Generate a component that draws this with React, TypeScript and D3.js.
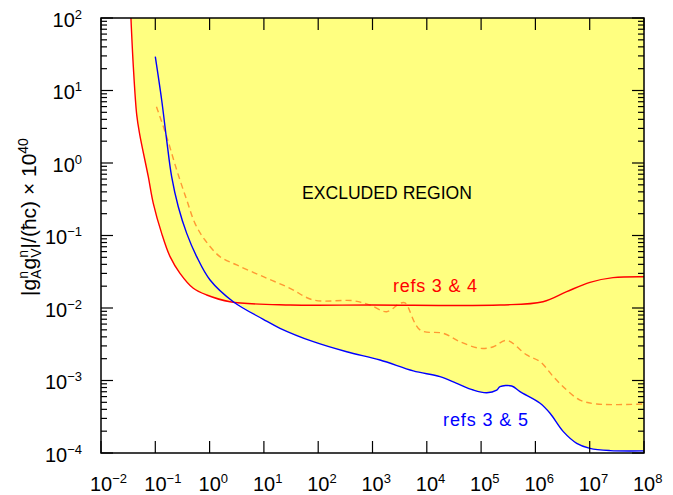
import React from "react";
import * as d3 from "d3";

// red curve (refs 3 & 4)
const redX = [0.0345, 0.0394, 0.0455, 0.0515, 0.0743, 0.0918, 0.131, 0.187, 0.285, 0.501, 0.885, 2.38, 30.3, 1000, 2.23e5, 1.38e6, 3.77e6, 1.01e7, 2.69e7, 1e8];
const redY = [170, 21.3, 4.6, 2.5, 0.647, 0.278, 0.107, 0.0511, 0.0301, 0.0187, 0.0151, 0.0122, 0.011, 0.011, 0.011, 0.0122, 0.0168, 0.0226, 0.0262, 0.027];

// blue curve (refs 3 & 5)
const blueX = [0.1, 0.131, 0.162, 0.2, 0.265, 0.379, 0.578, 1.02, 2.73, 9.75, 19.8, 81.3, 335, 1374, 5640, 1.75e4, 3.56e4, 7.18e4, 1.27e5, 1.94e5, 2.23e5, 3.66e5, 5.2e5, 1.22e6, 1.86e6, 3.27e6, 5.77e6, 1.01e7, 2.37e7, 1e8];
const blueY = [29.3, 7.4, 2.07, 0.647, 0.249, 0.107, 0.0511, 0.0243, 0.0122, 0.00698, 0.00525, 0.00343, 0.00249, 0.00192, 0.00136, 0.00113, 0.000914, 0.000739, 0.000679, 0.000739, 0.000821, 0.00084, 0.000701, 0.000485, 0.000353, 0.000197, 0.000136, 0.000116, 0.000108, 0.000107];

// orange dashed curve
const orangeX = [0.105, 0.162, 0.248, 0.379, 0.538, 0.822, 1.55, 3.16, 9.75, 30.3, 81.3, 443, 899, 1825, 3206, 3970, 7500, 2.01e4, 4.08e4, 9.55e4, 1.68e5, 2.96e5, 6.92e5, 1.22e6, 2.14e6, 3.77e6, 6.62e6, 1.35e7, 1e8];
const orangeY = [5.98, 2.31, 0.8, 0.309, 0.147, 0.0867, 0.0511, 0.0392, 0.027, 0.0187, 0.0129, 0.0126, 0.011, 0.00889, 0.0116, 0.0118, 0.00498, 0.00448, 0.00343, 0.00278, 0.00292, 0.00358, 0.00225, 0.00182, 0.00113, 0.000739, 0.000538, 0.000474, 0.000474];

const xExponents = [-2, -1, 0, 1, 2, 3, 4, 5, 6, 7, 8];
const yExponents = [-4, -3, -2, -1, 0, 1, 2];
const crossX = 2.5;

const FONT = "'Liberation Sans', Arial, sans-serif";

const fmtExp = (e: number) => (e < 0 ? "\u2212" + Math.abs(e) : String(e));

export default function App() {
  const W = 673, H = 495;
  const L = 101, R = 644, T = 18, B = 453;
  const x = d3.scaleLog().domain([1e-2, 1e8]).range([L, R]);
  const y = d3.scaleLog().domain([1e-4, 1e2]).range([B, T]);

  const zip = (xs: number[], ys: number[]) => xs.map((v, i) => [v, ys[i]] as [number, number]);
  const red = zip(redX, redY);
  const blue = zip(blueX, blueY);
  const orange = zip(orangeX, orangeY);

  const line = d3
    .line<[number, number]>()
    .x((d) => x(d[0]))
    .y((d) => y(d[1]))
    .curve(d3.curveCatmullRom.alpha(0.5));

  const envelope = [...red.filter((d) => d[0] < crossX), ...blue.filter((d) => d[0] > crossX)];
  const fillPath =
    line(envelope) + `L${x(1e8)},${y(1e2) - 5}L${x(redX[0])},${y(1e2) - 5}Z`;

  const minorTicks: number[] = [];
  for (let e = -4; e < 2; e++) for (let k = 2; k <= 9; k++) minorTicks.push(k * Math.pow(10, e));

  const tickStroke = "#000";
  return (
    <svg width={W} height={H} style={{ position: "absolute", left: 0, top: 0, background: "#fff" }} fontFamily={FONT}>
      <defs>
        <clipPath id="plot">
          <rect x={L} y={T} width={R - L} height={B - T} />
        </clipPath>
      </defs>
      <g clipPath="url(#plot)">
        <path d={fillPath} fill="#ffff80" stroke="none" />
        <path d={line(orange) || ""} fill="none" stroke="#ff9933" strokeWidth={1.4} strokeDasharray="6,4" />
        <path d={line(red) || ""} fill="none" stroke="#ff0000" strokeWidth={1.4} />
        <path d={line(blue) || ""} fill="none" stroke="#0000ff" strokeWidth={1.4} />
      </g>

      {/* ticks */}
      <g stroke={tickStroke} strokeWidth={1.2}>
        {xExponents.map((e) => {
          const px = x(Math.pow(10, e));
          return (
            <g key={"xt" + e}>
              <line x1={px} x2={px} y1={B} y2={B - 12} />
              <line x1={px} x2={px} y1={T} y2={T + 12} />
            </g>
          );
        })}
        {yExponents.map((e) => {
          const py = y(Math.pow(10, e));
          return (
            <g key={"yt" + e}>
              <line x1={L} x2={L + 12} y1={py} y2={py} />
              <line x1={R} x2={R - 12} y1={py} y2={py} />
            </g>
          );
        })}
        {minorTicks.map((v, i) => {
          const py = y(v);
          return (
            <g key={"ym" + i}>
              <line x1={L} x2={L + 6} y1={py} y2={py} />
              <line x1={R} x2={R - 6} y1={py} y2={py} />
            </g>
          );
        })}
      </g>
      <rect x={L} y={T} width={R - L} height={B - T} fill="none" stroke="#000" strokeWidth={1.5} />

      {/* x tick labels */}
      {xExponents.map((e) => (
        <text key={"xl" + e} x={x(Math.pow(10, e)) - 11} y={491} fontSize={20} fill="#000">
          10
          <tspan fontSize={13} dy={-8}>{fmtExp(e)}</tspan>
        </text>
      ))}
      {/* y tick labels */}
      {yExponents.map((e) => (
        <text key={"yl" + e} x={82} y={y(Math.pow(10, e)) + 8.5} fontSize={20} fill="#000" textAnchor="end">
          10
          <tspan fontSize={13} dy={-8}>{fmtExp(e)}</tspan>
        </text>
      ))}

      {/* y axis title */}
      <text transform="translate(36,217) rotate(-90)" textAnchor="middle" fontSize={21} fill="#000">
        |g
        <tspan fontSize={14} dy={-8}>n</tspan>
        <tspan fontSize={14} dx={-7.8} dy={13}>A</tspan>
        <tspan dy={-5}>g</tspan>
        <tspan fontSize={14} dy={-8}>n</tspan>
        <tspan fontSize={14} dx={-7.8} dy={13}>V</tspan>
        <tspan dy={-5}>|/(ħc) × 10</tspan>
        <tspan fontSize={14} dy={-8}>40</tspan>
      </text>

      <text x={302} y={199} fontSize={18} fill="#000" textLength={170} lengthAdjust="spacingAndGlyphs">
        EXCLUDED REGION
      </text>
      <text x={393} y={291.5} fontSize={18} fill="#ff0000" textLength={84} lengthAdjust="spacing">
        refs 3 &amp; 4
      </text>
      <text x={443} y={426} fontSize={18} fill="#0000ff" textLength={85} lengthAdjust="spacing">
        refs 3 &amp; 5
      </text>
    </svg>
  );
}
